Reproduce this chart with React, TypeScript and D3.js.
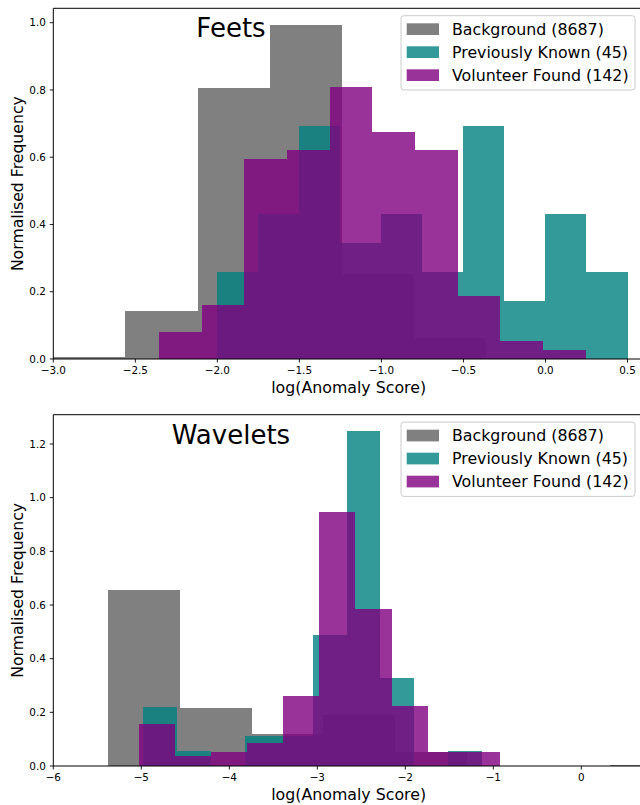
import React from "react";
import * as d3 from "d3";

// ---------- data ----------
const SERIES_NAMES = ["Background (8687)", "Previously Known (45)", "Volunteer Found (142)"];
const SERIES_COLORS = ["#808080", "#008080", "#800080"];
const SERIES_OPACITY = [1, 0.8, 0.8];

const FEETS_BG_EDGES = [-3.0, -2.56, -2.12, -1.68, -1.24, -0.8, -0.36, 0.08, 0.52, 0.96, 1.4];
const FEETS_BG = [0.007, 0.143, 0.805, 0.993, 0.254, 0.063, 0.003, 0, 0, 0];
const FEETS_PK_EDGES = [-2.0, -1.75, -1.5, -1.25, -1.0, -0.75, -0.5, -0.25, 0, 0.25, 0.5];
const FEETS_PK = [0.259, 0.431, 0.693, 0.345, 0.431, 0.259, 0.693, 0.172, 0.431, 0.259];
const FEETS_VF_EDGES = [-2.355, -2.095, -1.835, -1.575, -1.315, -1.055, -0.795, -0.535, -0.275, -0.015, 0.245];
const FEETS_VF = [0.081, 0.161, 0.594, 0.621, 0.809, 0.675, 0.621, 0.187, 0.054, 0.027];

const WAVE_BG_EDGES = [-5.375, -4.56, -3.745, -2.93, -2.115, -1.3, -0.485, 0.33, 1.145, 1.96, 2.775];
const WAVE_BG = [0.656, 0.216, 0.119, 0.19, 0.052, 0, 0, 0.004, 0.002, 0.002];
const WAVE_PK_EDGES = [-4.977, -4.592, -4.207, -3.822, -3.437, -3.052, -2.667, -2.282, -1.897, -1.512, -1.127];
const WAVE_PK = [0.22, 0.056, 0, 0.112, 0.112, 0.488, 1.249, 0.328, 0, 0.056];
const WAVE_VF_EDGES = [-5.026, -4.616, -4.206, -3.796, -3.386, -2.976, -2.566, -2.156, -1.746, -1.336, -0.926];
const WAVE_VF = [0.157, 0.037, 0.052, 0.086, 0.261, 0.946, 0.584, 0.224, 0.051, 0.051];

const FEETS_X_TICKS = [-3.0, -2.5, -2.0, -1.5, -1.0, -0.5, 0.0, 0.5];
const FEETS_Y_TICKS = [0, 0.2, 0.4, 0.6, 0.8, 1.0];
const WAVE_X_TICKS = [-6, -5, -4, -3, -2, -1, 0];
const WAVE_Y_TICKS = [0, 0.2, 0.4, 0.6, 0.8, 1.0, 1.2];

const X_LABEL = "log(Anomaly Score)";
const Y_LABEL = "Normalised Frequency";

const FONT = "DejaVu Sans, sans-serif";
const fmtMinus = (s: string) => s.replace("-", "\u2212");

type PanelProps = {
  id: string;
  title: string;
  top: number;
  bottom: number;
  left: number;
  right: number;
  xDomain: [number, number];
  xRange: [number, number];
  yDomain: [number, number];
  yRange: [number, number];
  xTicks: number[];
  xFmt: string;
  yTicks: number[];
  series: { edges: number[]; values: number[] }[];
};

function Panel(p: PanelProps) {
  const x = d3.scaleLinear().domain(p.xDomain).range(p.xRange);
  const y = d3.scaleLinear().domain(p.yDomain).range(p.yRange);
  const fx = d3.format(p.xFmt);
  const fy = d3.format(".1f");
  const cx = (p.left + p.right) / 2;
  const cy = (p.top + p.bottom) / 2;
  const legX = 401;
  const legY = p.top + 7.4;
  return (
    <g>
      <defs>
        <clipPath id={p.id}>
          <rect x={p.left} y={p.top} width={p.right - p.left} height={p.bottom - p.top} />
        </clipPath>
      </defs>
      <g clipPath={`url(#${p.id})`} shapeRendering="crispEdges">
        {p.series.map((s, si) => (
          <g key={si} fill={SERIES_COLORS[si]} fillOpacity={SERIES_OPACITY[si]}>
            {s.values.map((v, i) =>
              v > 0 ? (
                <rect
                  key={i}
                  x={x(s.edges[i])}
                  width={x(s.edges[i + 1]) - x(s.edges[i])}
                  y={y(v)}
                  height={y(0) - y(v)}
                />
              ) : null
            )}
          </g>
        ))}
      </g>
      {/* spines */}
      <g stroke="#000" strokeWidth={1} fill="none">
        <line x1={p.left} x2={p.right} y1={p.top} y2={p.top} />
        <line x1={p.left} x2={p.right} y1={p.bottom} y2={p.bottom} />
        <line x1={p.left} x2={p.left} y1={p.top} y2={p.bottom} />
      </g>
      {/* ticks */}
      <g fontFamily={FONT} fontSize={10.4} fill="#000">
        {p.xTicks.map((t) => (
          <g key={t}>
            <line x1={x(t)} x2={x(t)} y1={p.bottom} y2={p.bottom + 3.5} stroke="#000" strokeWidth={0.9} />
            <text x={x(t)} y={p.bottom + 15} textAnchor="middle">
              {fmtMinus(fx(t))}
            </text>
          </g>
        ))}
        {p.yTicks.map((t) => (
          <g key={t}>
            <line x1={p.left - 3.5} x2={p.left} y1={y(t)} y2={y(t)} stroke="#000" strokeWidth={0.9} />
            <text x={p.left - 7.5} y={y(t)} dy="0.35em" textAnchor="end">
              {fy(t)}
            </text>
          </g>
        ))}
      </g>
      {/* axis labels */}
      <text x={cx} y={p.bottom + 34} textAnchor="middle" fontFamily={FONT} fontSize={15.8}>
        {X_LABEL}
      </text>
      <text
        transform={`translate(22.5,${cy}) rotate(-90)`}
        textAnchor="middle"
        fontFamily={FONT}
        fontSize={15.7}
      >
        {Y_LABEL}
      </text>
      {/* title */}
      <text x={231} y={p.top + 29} textAnchor="middle" fontFamily={FONT} fontSize={26}>
        {p.title}
      </text>
      {/* legend */}
      <g>
        <rect
          x={legX}
          y={legY}
          width={234}
          height={74.3}
          rx={3}
          fill="#fff"
          fillOpacity={0.8}
          stroke="#cccccc"
          strokeWidth={1}
        />
        {SERIES_NAMES.map((n, i) => (
          <g key={n}>
            <rect
              x={406.7}
              y={legY + 7.6 + i * 23}
              width={32.3}
              height={11.7}
              fill={SERIES_COLORS[i]}
              fillOpacity={SERIES_OPACITY[i]}
            />
            <text x={452} y={legY + 19 + i * 23} fontFamily={FONT} fontSize={15.8}>
              {n}
            </text>
          </g>
        ))}
      </g>
    </g>
  );
}

export default function App() {
  return (
    <div style={{ position: "absolute", left: 0, top: 0 }}>
      <svg width={640} height={805} style={{ display: "block", background: "#fff" }}>
        <Panel
          id="clipFeets"
          title="Feets"
          top={8.3}
          bottom={359}
          left={53.3}
          right={644}
          xDomain={[-3, 0.5]}
          xRange={[53.3, 627.5]}
          yDomain={[0, 1]}
          yRange={[359, 22.7]}
          xTicks={FEETS_X_TICKS}
          xFmt=".1f"
          yTicks={FEETS_Y_TICKS}
          series={[
            { edges: FEETS_BG_EDGES, values: FEETS_BG },
            { edges: FEETS_PK_EDGES, values: FEETS_PK },
            { edges: FEETS_VF_EDGES, values: FEETS_VF },
          ]}
        />
        <Panel
          id="clipWave"
          title="Wavelets"
          top={414.7}
          bottom={766}
          left={53.3}
          right={644}
          xDomain={[-6, 0]}
          xRange={[53.3, 581.3]}
          yDomain={[0, 1.2]}
          yRange={[766, 444]}
          xTicks={WAVE_X_TICKS}
          xFmt=".0f"
          yTicks={WAVE_Y_TICKS}
          series={[
            { edges: WAVE_BG_EDGES, values: WAVE_BG },
            { edges: WAVE_PK_EDGES, values: WAVE_PK },
            { edges: WAVE_VF_EDGES, values: WAVE_VF },
          ]}
        />
      </svg>
    </div>
  );
}
